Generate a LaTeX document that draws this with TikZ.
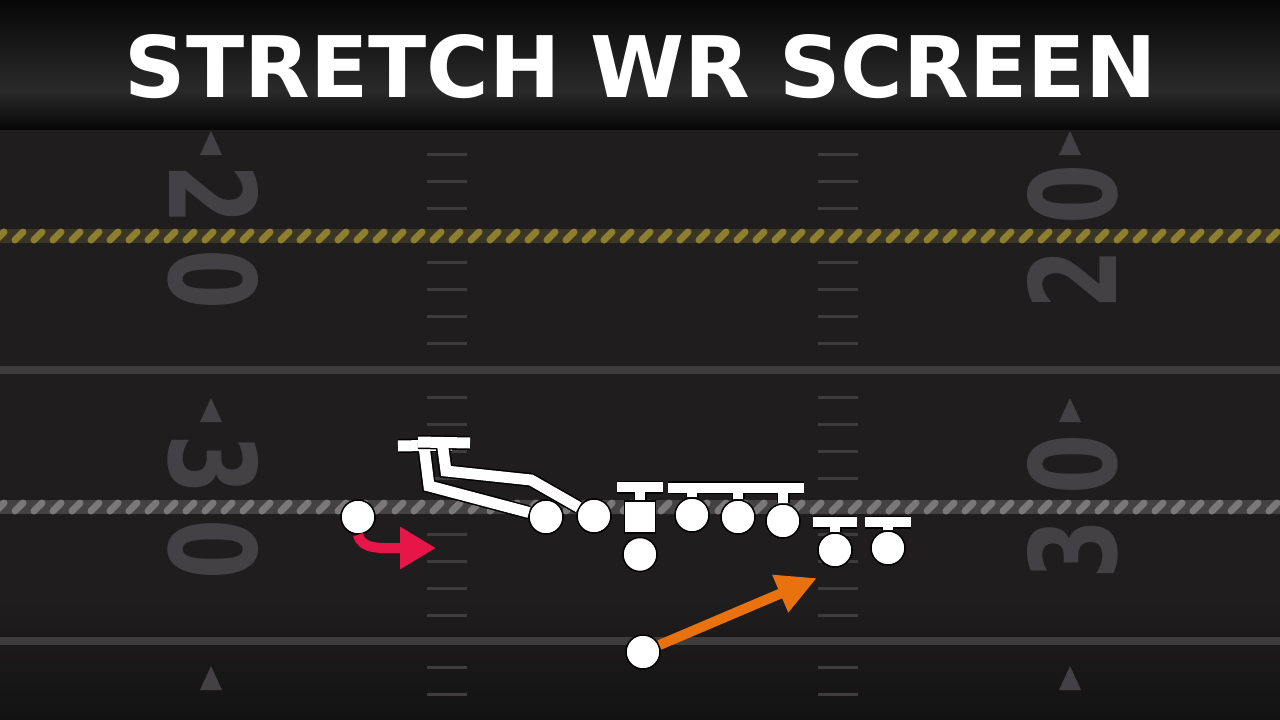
\documentclass[tikz,border=0pt]{standalone}
\usepackage{fontspec}
\usetikzlibrary{arrows.meta,positioning}
\newfontfamily\titlefont{DejaVu Sans}
\newfontfamily\numfont{DejaVu Sans}

\definecolor{bardark}{HTML}{070707}
\definecolor{barlight}{HTML}{2A2A2A}
\definecolor{turf}{HTML}{1F1D1E}
\definecolor{turfdark}{HTML}{141314}
\definecolor{paint}{HTML}{3E3C3D}
\definecolor{numgray}{HTML}{434143}
\definecolor{gold}{HTML}{8E7F30}
\definecolor{goldbase}{HTML}{3A3524}
\definecolor{silver}{HTML}{7A7879}
\definecolor{silverbase}{HTML}{444243}
\definecolor{pullred}{RGB}{232,22,72}
\definecolor{runorange}{RGB}{234,114,14}

\begin{document}
\begin{tikzpicture}[x=1pt, y=-1pt,
    player/.style={circle, fill=white, draw=black, line width=1.5pt,
      minimum size=34pt, inner sep=0pt},
    ball/.style={rectangle, fill=white, draw=black, line width=1.5pt,
      minimum width=31pt, minimum height=32pt, inner sep=0pt},
    block/.style={white, line width=10pt,
      preaction={draw=black, line width=13pt}},
    route/.style={white, line width=11pt,
      preaction={draw=black, line width=14pt}},
    pull/.style={pullred, line width=10pt,
      -{Triangle[length=36pt, width=40pt]}},
    run/.style={runorange, line width=10pt,
      -{Triangle[length=40pt, width=38pt]}},
    hash/.style={paint, line width=3pt},
    yardline/.style={paint, line width=8pt},
    strand/.style={line width=7pt, line cap=round},
    yardnum/.style={numgray, inner sep=0pt,
      font=\numfont\bfseries\fontsize{120}{120}\selectfont},
    pointer/.style={numgray}]
  \useasboundingbox (0,0) rectangle (1280,720);
  % title bar
  \shade[top color=bardark, bottom color=barlight] (0,0) rectangle (1280,90);
  \shade[top color=barlight, bottom color=bardark] (0,90) rectangle (1280,130);
  \node[white, inner sep=0pt, font=\titlefont\bfseries] (title) at (641,66.5)
    {\resizebox{1032pt}{63pt}{STRETCH WR SCREEN}};
  % field
  \begin{scope}
    \clip (0,130) rectangle (1280,720);
    \fill[turf] (0,130) rectangle (1280,720);
    \shade[top color=turf, bottom color=turfdark] (0,600) rectangle (1280,720);
    \draw[yardline] (0,370) -- (1280,370);
    \draw[yardline] (0,641) -- (1280,641);
    \foreach \hy in {154,181,208,262,289,316,343,397,424,451,478,534,561,588,615,667,694} {
      \draw[hash] (427,\hy) -- (467,\hy);
      \draw[hash] (818,\hy) -- (858,\hy);
    }
    % first down and scrimmage ropes
    \fill[goldbase] (0,229) rectangle (1280,243);
    \foreach \k in {0,...,68}
      \draw[strand, gold] (\k*19-4,240) -- (\k*19+4,232);
    \fill[silverbase] (0,500) rectangle (1280,514);
    \foreach \k in {0,...,68}
      \draw[strand, silver] (\k*19-4,511) -- (\k*19+4,503);
    % yard numbers
    \node[yardnum, rotate=-90] (twentyL) at (213,237) {\scalebox{0.72}[1]{2\hspace{35pt}0}};
    \node[yardnum, rotate=90] (twentyR) at (1073,237) {\scalebox{0.72}[1]{2\hspace{35pt}0}};
    \node[yardnum, rotate=-90] (thirtyL) at (213,507) {\scalebox{0.72}[1]{3\hspace{35pt}0}};
    \node[yardnum, rotate=90] (thirtyR) at (1073,507) {\scalebox{0.72}[1]{3\hspace{35pt}0}};
    \foreach \tx in {211,1070}
      \foreach \ty in {155,422,690}
        \fill[pointer] (\tx,\ty-24) -- (\tx-11,\ty) -- (\tx+11,\ty) -- cycle;
  \end{scope}

  % offense
  \node[player] (lt) at (546,517) {};
  \node[player] (lg) at (594,516) {};
  \node[ball] (ctr) at (640,517) {};
  \node[player, below=3pt of ctr] (qb) {};
  \node[player] (rg) at (692,515) {};
  \node[player] (rt) at (738,517) {};
  \node[player] (te) at (783,521) {};
  \node[player] (wingA) at (835,550) {};
  \node[player] (wingB) at (888,548) {};
  \node[player] (wr) at (358,517) {};
  \node[player] (rb) at (643,652) {};

  \coordinate (ltTurn) at (429,486);
  \coordinate (ltBlock) at (424,446);
  \coordinate (lgTurn) at (531,480);
  \coordinate (lgCut) at (446,471);
  \coordinate (lgBlock) at (442,441);
  \coordinate (pullEnd) at (436,548);
  \coordinate (runEnd) at (817,578);

  % pulling linemen
  \draw[route] (lt) -- (ltTurn) -- (ltBlock) (398,446) -- (452,445);
  \draw[route] (lg) -- (lgTurn) -- (lgCut) -- (lgBlock) (418,442) -- (470,443);

  % base blocks
  \draw[block] (ctr.north) -- ++(0,-13) ++(-23,0) -- ++(46,0);
  \draw[block] (rg.north) -- ++(0,-9.5) ++(-24,0) -- ++(48,0);
  \draw[block] (rt.north) -- ++(0,-11.5) ++(-24,0) -- ++(48,0);
  \draw[block] (te.north) -- ++(0,-15.5) ++(-21,0) -- ++(42,0);
  \draw[block] (wingA.north) -- ++(0,-10) ++(-22,0) -- ++(44,0);
  \draw[block] (wingB.north) -- ++(0,-8) ++(-23,0) -- ++(46,0);

  % motion and path
  \draw[pull] (wr.south) .. controls (362,550) and (380,548) .. (pullEnd);
  \draw[run] (rb) -- (runEnd);
\end{tikzpicture}
\end{document}
